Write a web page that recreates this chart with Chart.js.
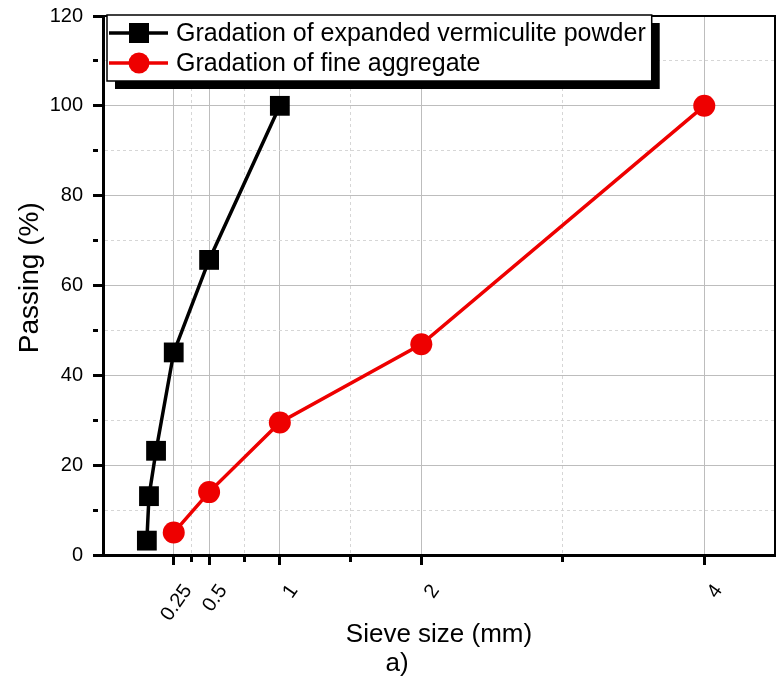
<!DOCTYPE html>
<html>
<head>
<meta charset="utf-8">
<script src="https://cdn.jsdelivr.net/npm/chart.js@4/dist/chart.umd.min.js"></script>
<style>
  body { margin: 0; background: #fff; }
  #wrap { width: 783px; height: 683px; }
</style>
</head>
<body>
<div id="wrap"><canvas id="chart" width="783" height="683"></canvas></div>
<script>
// sieve sizes (mm) and passing (%)
var vermSize = [0.06, 0.075, 0.125, 0.25, 0.5, 1];
var vermPassing = [3.2, 13.1, 23.2, 45.1, 65.7, 100];
var fineSize = [0.25, 0.5, 1, 2, 4];
var finePassing = [5.0, 14.0, 29.5, 46.9, 100];

var seriesNames = ['Gradation of expanded vermiculite powder', 'Gradation of fine aggregate'];
var xMajorTicks = [0.25, 0.5, 1, 2, 4];
var xMinorTicks = [0.375, 0.75, 1.5, 3];

var FONT = 'Liberation Sans, Arial, sans-serif';
var majorGrid = '#bdbdbd';
var minorGrid = '#d6d6d6';

var toPoints = function(xs, ys) {
  return xs.map(function(x, i) { return {x: x, y: ys[i]}; });
};

var isMajorX = function(v) { return xMajorTicks.indexOf(v) >= 0; };
var isMajorY = function(v) { return v % 20 === 0; };

var noEdgePadding = function(scale) {
  scale.paddingTop = 0;
  scale.paddingBottom = 0;
  scale.paddingLeft = 0;
  scale.paddingRight = 0;
};

// legend box with drop shadow, top/right frame and the "a)" caption
var frameLegend = {
  id: 'frameLegend',
  afterDraw: function(chart) {
    var ctx = chart.ctx, a = chart.chartArea;
    ctx.save();
    ctx.strokeStyle = '#000';
    ctx.lineWidth = 2;
    ctx.beginPath();
    ctx.moveTo(a.left, a.top);
    ctx.lineTo(a.right, a.top);
    ctx.lineTo(a.right, a.bottom);
    ctx.stroke();

    ctx.font = '25px ' + FONT;
    var bx = a.left + 4, by = a.top - 1;
    var textX = bx + 69;
    var maxW = 0;
    chart.data.datasets.forEach(function(ds) {
      maxW = Math.max(maxW, ctx.measureText(ds.label).width);
    });
    var bw = textX + maxW + 6 - bx, bh = 66;
    ctx.fillStyle = '#000';
    ctx.fillRect(bx + 8, by + 8, bw, bh);
    ctx.fillStyle = '#fff';
    ctx.fillRect(bx, by, bw, bh);
    ctx.lineWidth = 1.5;
    ctx.strokeRect(bx, by, bw, bh);

    chart.data.datasets.forEach(function(ds, i) {
      var cy = by + 18 + i * 30;
      ctx.strokeStyle = ds.borderColor;
      ctx.lineWidth = 3.5;
      ctx.beginPath();
      ctx.moveTo(bx + 2, cy);
      ctx.lineTo(bx + 61, cy);
      ctx.stroke();
      ctx.fillStyle = ds.pointBackgroundColor;
      if (ds.pointStyle === 'rect') {
        ctx.fillRect(bx + 32 - 10, cy - 10, 20, 20);
      } else {
        ctx.beginPath();
        ctx.arc(bx + 32, cy, 10.5, 0, Math.PI * 2);
        ctx.fill();
      }
      ctx.fillStyle = '#000';
      ctx.textAlign = 'left';
      ctx.textBaseline = 'middle';
      ctx.fillText(ds.label, textX, cy + 1);
    });

    ctx.font = '26px ' + FONT;
    ctx.textAlign = 'center';
    ctx.textBaseline = 'middle';
    ctx.fillText('a)', (a.left + a.right) / 2 - 42, 664);
    ctx.restore();
  }
};

var canvas = document.getElementById('chart');
new Chart(canvas, {
  type: 'scatter',
  data: {
    datasets: [
      {
        label: seriesNames[0],
        data: toPoints(vermSize, vermPassing),
        showLine: true,
        borderColor: '#000000',
        borderWidth: 3.5,
        pointStyle: 'rect',
        pointRadius: 14,
        pointBackgroundColor: '#000000',
        pointBorderColor: '#000000',
        pointBorderWidth: 0
      },
      {
        label: seriesNames[1],
        data: toPoints(fineSize, finePassing),
        showLine: true,
        borderColor: '#ee0000',
        borderWidth: 3.5,
        pointStyle: 'circle',
        pointRadius: 11,
        pointBackgroundColor: '#ee0000',
        pointBorderColor: '#ee0000',
        pointBorderWidth: 0
      }
    ]
  },
  options: {
    responsive: false,
    animation: false,
    layout: { autoPadding: false, padding: { left: 0, top: 16, right: 8, bottom: 0 } },
    plugins: {
      legend: { display: false },
      tooltip: { enabled: false }
    },
    scales: {
      x: {
        type: 'linear',
        min: -0.25,
        max: 4.5,
        afterBuildTicks: function(scale) {
          scale.ticks = xMajorTicks.concat(xMinorTicks).sort(function(a, b) { return a - b; })
            .map(function(v) { return {value: v}; });
        },
        afterFit: function(scale) {
          scale.height = 128;
          noEdgePadding(scale);
        },
        ticks: {
          autoSkip: false,
          minRotation: 55,
          maxRotation: 55,
          padding: 15,
          labelOffset: 14,
          color: '#000',
          font: { family: FONT, size: 20 },
          callback: function(v) { return isMajorX(v) ? String(v) : ''; }
        },
        grid: {
          color: function(c) { return c.tick && isMajorX(c.tick.value) ? majorGrid : minorGrid; },
          lineWidth: 1,
          tickLength: 10,
          tickWidth: 3,
          tickColor: '#000',
          tickBorderDash: function(c) { return c.tick && isMajorX(c.tick.value) ? [] : [5, 50]; }
        },
        border: {
          color: '#000',
          width: 3,
          dash: function(c) { return c.tick && !isMajorX(c.tick.value) ? [3, 3] : []; }
        },
        title: {
          display: true,
          text: 'Sieve size (mm)',
          color: '#000',
          font: { family: FONT, size: 26 },
          padding: { top: 0, bottom: 33 }
        }
      },
      y: {
        min: 0,
        max: 120,
        afterFit: function(scale) {
          scale.width = 103;
          noEdgePadding(scale);
        },
        ticks: {
          stepSize: 10,
          padding: 10,
          color: '#000',
          font: { family: FONT, size: 20 },
          callback: function(v) { return isMajorY(v) ? String(v) : ''; }
        },
        grid: {
          color: function(c) { return c.tick && isMajorY(c.tick.value) ? majorGrid : minorGrid; },
          lineWidth: 1,
          tickLength: 10,
          tickWidth: 3,
          tickColor: '#000',
          tickBorderDash: function(c) { return c.tick && isMajorY(c.tick.value) ? [] : [5, 50]; }
        },
        border: {
          color: '#000',
          width: 3,
          dash: function(c) { return c.tick && !isMajorY(c.tick.value) ? [3, 3] : []; }
        },
        title: {
          display: true,
          text: '  Passing (%)',
          color: '#000',
          font: { family: FONT, size: 28 },
          padding: { top: 13, bottom: 0 }
        }
      }
    }
  },
  plugins: [frameLegend]
});
</script>
</body>
</html>
